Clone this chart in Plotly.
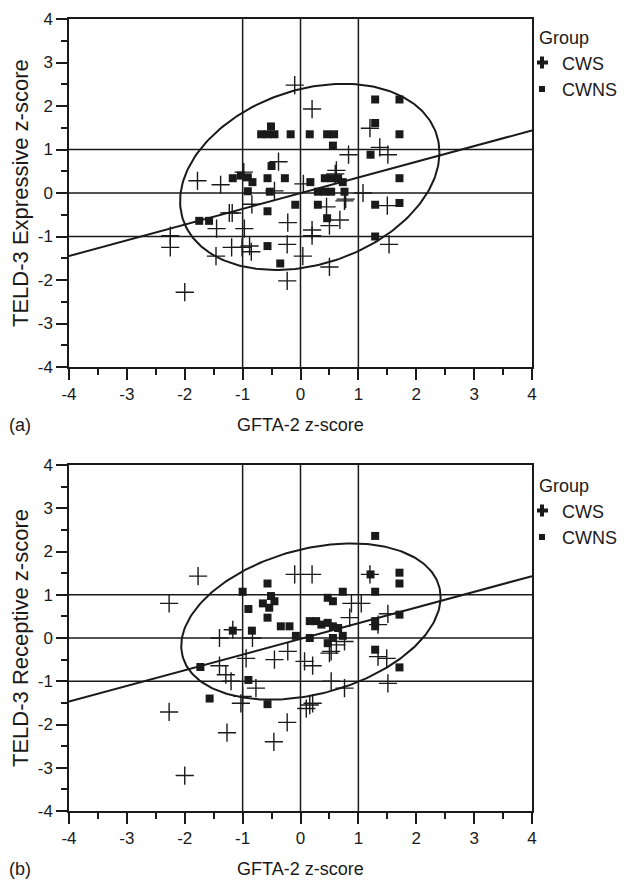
import numpy as np
import plotly.graph_objects as go

# ---------------- data ----------------
x_label = "GFTA-2 z-score"
y_label_a = "TELD-3 Expressive z-score"
y_label_b = "TELD-3 Receptive z-score"
panel_tags = ["(a)", "(b)"]
group_names = ["CWS", "CWNS"]
tick_vals = [-4, -3, -2, -1, 0, 1, 2, 3, 4]
tick_text = ["-4", "-3", "-2", "-1", "0", "1", "2", "3", "4"]
ref_lines = [-1, 0, 1]

# Panel (a): Expressive
a_cws_x = [-0.10, 0.20, 1.20, 1.37, 1.51, 0.83, -1.78, -1.38, -0.98, -0.38, -0.45, 0.05, 0.60,
           1.08, 0.78, -0.84, -1.23, -1.18, -1.45, -0.97, -0.22, 0.45, 0.68, 0.50, 0.20, 0.20,
           1.50, -2.25, -2.25, -1.19, -1.01, -0.85, -1.46, -0.23, 0.04, 0.50, -0.23, -2.00,
           1.53, -0.88, 0.62, 0.76]
a_cws_y = [2.48, 1.93, 1.49, 1.05, 0.88, 0.88, 0.28, 0.19, 0.48, 0.72, 0.05, 0.21, 0.44,
           0.00, -0.14, -0.26, -0.46, -0.46, -0.82, -0.82, -0.68, -0.32, -0.62, -0.75, -0.85, -0.98,
           -0.29, -0.98, -1.25, -1.25, -1.25, -1.35, -1.45, -1.18, -1.45, -1.70, -2.02, -2.28,
           -1.18, -1.22, 0.52, -0.18]
a_cwns_x = [1.29, 1.71, 1.29, 1.71, -0.68, -0.57, -0.45, -0.51, -0.17, 0.16, 0.46, 0.58, 0.56,
            1.21, -0.50, -1.17, -1.03, -0.91, -0.83, -0.91, -0.57, -0.27, -0.53, 0.17, 0.42,
            0.53, 0.65, 0.30, 0.42, 0.53, 0.73, 0.76, 1.71, -0.09, 0.30, 1.29, 1.71, -0.57,
            0.46, -1.75, -1.58, 1.29, -0.57, -0.35]
a_cwns_y = [2.15, 2.15, 1.61, 1.35, 1.35, 1.35, 1.35, 1.53, 1.35, 1.35, 1.35, 1.35, 1.09,
            0.88, 0.62, 0.34, 0.40, 0.36, 0.25, 0.04, 0.34, 0.34, 0.03, 0.25, 0.34,
            0.34, 0.34, 0.03, 0.03, 0.03, 0.25, 0.03, 0.34, -0.27, -0.27, -0.27, -0.23, -0.42,
            -0.58, -0.64, -0.64, -1.00, -1.22, -1.62]

# Panel (b): Receptive
b_cws_x = [-1.77, -2.27, -0.10, 0.20, 1.20, 0.88, 1.05, 0.85, 1.51, 1.34, -1.40, -1.17, -0.83,
           -0.94, -0.45, -0.22, 0.07, 0.21, 0.53, 0.62, 0.50, -1.40, -1.29, -1.20, -0.77,
           -1.03, -1.00, 0.10, 0.21, 0.16, 0.53, 0.76, 1.34, 1.49, 1.51, -2.27, -1.27, -0.23,
           -0.46, -2.00, 0.76]
b_cws_y = [1.43, 0.80, 1.47, 1.47, 1.47, 0.80, 0.80, 0.47, 0.56, 0.31, 0.00, 0.19, 0.00,
           -0.47, -0.50, -0.31, -0.54, -0.64, -0.31, -0.16, -0.35, -0.64, -0.85, -1.00, -1.16,
           -1.51, -1.35, -1.63, -1.51, -1.55, -1.00, -1.16, -0.43, -0.47, -1.05, -1.71, -2.19, -1.95,
           -2.40, -3.18, -0.08]
b_cwns_x = [1.29, 1.71, 1.71, 1.21, 1.29, 0.73, -0.57, -1.00, -0.51, -0.45, -0.65, -0.54, -0.57,
            -0.90, 0.47, 0.56, 0.16, 0.27, 0.36, 0.47, 0.56, 0.65, 0.47, 0.56, 0.73, 0.16,
            -0.34, -0.19, -0.08, -1.17, -0.84, 1.29, 1.29, 1.71, 1.29, 1.71, -1.73, -0.90,
            -1.57, -0.57]
b_cwns_y = [2.36, 1.51, 1.26, 1.47, 1.07, 1.07, 1.26, 1.07, 0.97, 0.85, 0.80, 0.70, 0.47,
            0.67, 0.93, 0.85, 0.39, 0.39, 0.31, 0.35, 0.27, 0.23, -0.12, 0.00, 0.05, 0.00,
            0.27, 0.27, 0.05, 0.17, 0.17, 0.39, 0.27, 0.54, -0.27, -0.68, -0.67, -0.97,
            -1.40, -1.53]

# fit line (intercept, slope) and density-ellipse parameters (centre, covariance)
a_line = (-0.005, 0.361)
b_line = (-0.02, 0.3625)
a_ell_center = [0.16, 0.37]
a_ell_cov = [[5.02, 1.25], [1.25, 4.58]]
b_ell_center = [0.18, 0.38]
b_ell_cov = [[5.02, 1.26], [1.26, 3.26]]

# ---------------- figure ----------------
FONT = "Liberation Sans, Arial, Helvetica, sans-serif"
INK = "#1a1a1a"
W, H = 635, 883
ML, MR, MT, MB = 69, 103, 19, 72
plot_w = W - ML - MR
plot_h = H - MT - MB
dom_a = [(plot_h - (367 - MT)) / plot_h, 1.0]
dom_b = [0.0, (811 - 465) / plot_h]


def ellipse_pts(center, cov, n=240):
    L = np.linalg.cholesky(np.array(cov))
    t = np.linspace(0, 2 * np.pi, n)
    pts = np.array(center)[:, None] + L @ np.vstack([np.cos(t), np.sin(t)])
    return pts[0], pts[1]


fig = go.Figure()
panels = [
    ("x", "y", a_cws_x, a_cws_y, a_cwns_x, a_cwns_y, a_line, a_ell_center, a_ell_cov, "legend"),
    ("x2", "y2", b_cws_x, b_cws_y, b_cwns_x, b_cwns_y, b_line, b_ell_center, b_ell_cov, "legend2"),
]
for xa, ya, cx, cy, nx, ny, line, ec, ecov, lg in panels:
    ex, ey = ellipse_pts(ec, ecov)
    fig.add_trace(go.Scatter(x=ex, y=ey, mode="lines", line=dict(color=INK, width=2),
                             xaxis=xa, yaxis=ya, showlegend=False, hoverinfo="skip"))
    lx = np.array([tick_vals[0], tick_vals[-1]], dtype=float)
    fig.add_trace(go.Scatter(x=lx, y=line[0] + line[1] * lx, mode="lines",
                             line=dict(color=INK, width=2), xaxis=xa, yaxis=ya,
                             showlegend=False, hoverinfo="skip"))
    fig.add_trace(go.Scatter(x=cx, y=cy, mode="markers", xaxis=xa, yaxis=ya, showlegend=False,
                             marker=dict(symbol="cross-thin-open", size=13, color=INK,
                                         line=dict(color=INK, width=1.4))))
    fig.add_trace(go.Scatter(x=nx, y=ny, mode="markers", xaxis=xa, yaxis=ya, showlegend=False,
                             marker=dict(symbol="square", size=8, color=INK, line=dict(width=0))))
    # legend-only entries
    fig.add_trace(go.Scatter(x=[None], y=[None], mode="markers", name=group_names[0],
                             xaxis=xa, yaxis=ya, legend=lg,
                             marker=dict(symbol="cross", size=10, color=INK, line=dict(width=0))))
    fig.add_trace(go.Scatter(x=[None], y=[None], mode="markers", name=group_names[1],
                             xaxis=xa, yaxis=ya, legend=lg,
                             marker=dict(symbol="square", size=6, color=INK, line=dict(width=0))))
    for v in ref_lines:
        fig.add_shape(type="line", xref=xa, yref=f"{ya} domain", x0=v, x1=v, y0=0, y1=1,
                      line=dict(color=INK, width=1.5), layer="below")
        fig.add_shape(type="line", xref=f"{xa} domain", yref=ya, x0=0, x1=1, y0=v, y1=v,
                      line=dict(color=INK, width=1.5), layer="below")

axis_common = dict(range=[tick_vals[0], tick_vals[-1]], tickvals=tick_vals, ticktext=tick_text,
                   ticks="outside", automargin=False,
                   ticklen=11, tickwidth=1.5, tickcolor=INK, showline=True, linewidth=1.5,
                   linecolor=INK, mirror=True, showgrid=False, zeroline=False,
                   tickfont=dict(family=FONT, size=17, color=INK),
                   minor=dict(dtick=0.5, ticks="outside", ticklen=6, tickwidth=1.5,
                              tickcolor=INK, showgrid=False))

legend_common = dict(xref="paper", yref="paper", x=1.0 + 5 / plot_w, xanchor="left",
                     yanchor="top", bgcolor="rgba(0,0,0,0)", borderwidth=0,
                     itemsizing="trace", indentation=-15,
                     font=dict(family=FONT, size=18, color=INK), tracegroupgap=0,
                     title=dict(text="Group", font=dict(family=FONT, size=18, color=INK)))

fig.update_layout(
    width=W, height=H, margin=dict(l=ML, r=MR, t=MT, b=MB),
    paper_bgcolor="white", plot_bgcolor="white",
    xaxis=dict(domain=[0, 1], anchor="y", **axis_common),
    yaxis=dict(domain=dom_a, anchor="x", **axis_common),
    xaxis2=dict(domain=[0, 1], anchor="y2", **axis_common),
    yaxis2=dict(domain=dom_b, anchor="x2", **axis_common),
    legend=dict(y=dom_a[1] - 2 / plot_h, **legend_common),
    legend2=dict(y=dom_b[1] - 4 / plot_h, **legend_common),
    showlegend=True,
)

ann = []
for dom, ylab, tag in [(dom_a, y_label_a, panel_tags[0]), (dom_b, y_label_b, panel_tags[1])]:
    ymid = (dom[0] + dom[1]) / 2
    ann.append(dict(text=ylab, xref="paper", yref="paper", x=0, y=ymid, xshift=-49,
                    textangle=-90, showarrow=False, xanchor="center", yanchor="middle",
                    font=dict(family=FONT, size=22, color=INK)))
    ann.append(dict(text=x_label, xref="paper", yref="paper", x=0.5, y=dom[0], yshift=-58,
                    showarrow=False, xanchor="center", yanchor="middle",
                    font=dict(family=FONT, size=18, color=INK)))
    ann.append(dict(text=tag, xref="paper", yref="paper", x=0, y=dom[0], xshift=-62, yshift=-58,
                    showarrow=False, xanchor="left", yanchor="middle",
                    font=dict(family=FONT, size=18, color=INK)))
fig.update_layout(annotations=ann)

fig.write_html("out.html")
